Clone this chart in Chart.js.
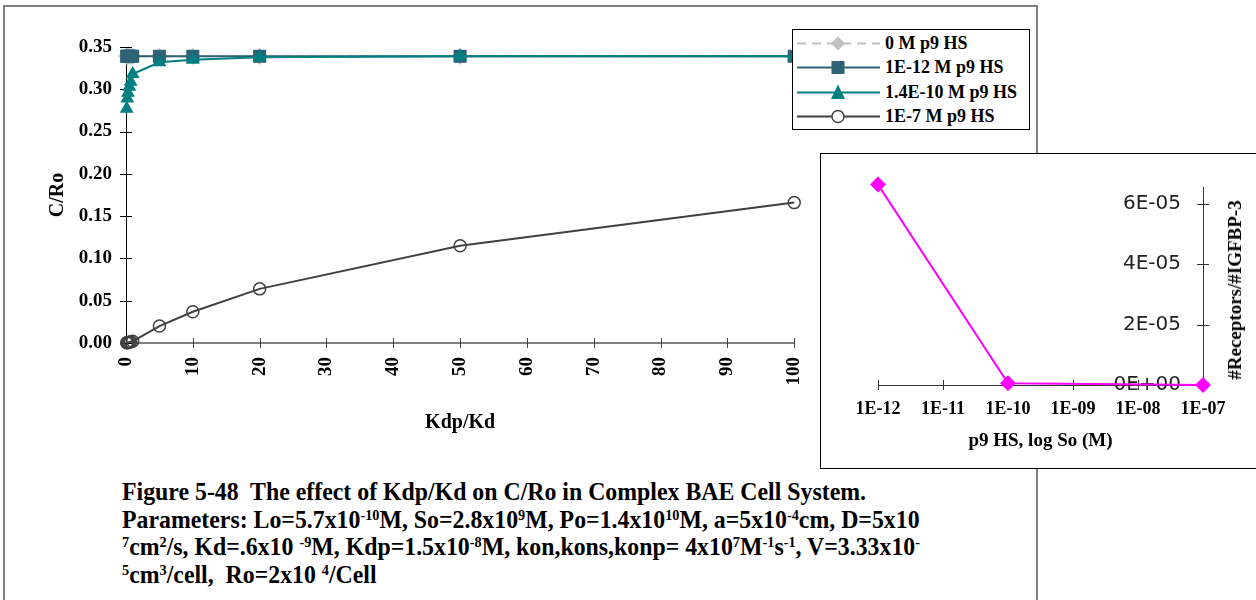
<!DOCTYPE html>
<html>
<head>
<meta charset="utf-8">
<script src="https://cdn.jsdelivr.net/npm/chart.js@4.4.1/dist/chart.umd.min.js"></script>
<style>
  html, body { margin: 0; padding: 0; background: #fff; }
  body { width: 1256px; height: 600px; overflow: hidden; position: relative; font-family: "Liberation Serif", serif; color: #000; }
  #frame { position: absolute; left: 3px; top: 5px; width: 1035px; height: 640px; border: 2px solid #808080; box-sizing: border-box; }
  #main { position: absolute; left: 0; top: 0; }
  #legend { position: absolute; left: 792px; top: 29px; width: 238px; height: 101px; border: 1px solid #000; background: #fff; box-sizing: border-box; font: bold 18px "Liberation Serif", serif; }
  #legend .row { position: absolute; left: 0; width: 236px; height: 25px; }
  #legend svg { position: absolute; left: 4px; top: 0; }
  #legend span { position: absolute; left: 92px; top: 0; line-height: 25px; white-space: nowrap; }
  #insetBox { position: absolute; left: 820px; top: 153px; width: 460px; height: 316px; border: 1px solid #000; background: #fff; box-sizing: border-box; }
  #inset { position: absolute; left: 821px; top: 154px; }
  #insetYTitle { position: absolute; left: 1235px; top: 290px; transform: translate(-50%, -50%) rotate(-90deg); font: bold 19px "Liberation Serif", serif; white-space: nowrap; }
  .cap { position: absolute; left: 122px; white-space: nowrap; font: bold 25px "Liberation Serif", serif; line-height: 27px; transform-origin: 0 50%; }
  .cap sup { font-size: 0.6em; vertical-align: 0.55em; line-height: 0; }
</style>
</head>
<body>
<div id="frame"></div>
<canvas id="main" width="831" height="445"></canvas>

<div id="legend"></div>

<div id="insetBox"></div>
<canvas id="inset" width="435" height="313"></canvas>
<div id="insetYTitle">#Receptors/#IGFBP-3</div>

<div class="cap" id="cap1" style="top:478px">Figure 5-48&nbsp; The effect of Kdp/Kd on C/Ro in Complex BAE Cell System.</div>
<div class="cap" style="top:506px">Parameters: Lo=5.7x10<sup>-10</sup>M, So=2.8x10<sup>9</sup>M, Po=1.4x10<sup>10</sup>M, a=5x10<sup>-4</sup>cm, D=5x10</div>
<div class="cap" style="top:533px"><sup>7</sup>cm<sup>2</sup>/s, Kd=.6x10 <sup>-9</sup>M, Kdp=1.5x10<sup>-8</sup>M, kon,kons,konp= 4x10<sup>7</sup>M<sup>-1</sup>s<sup>-1</sup>, V=3.33x10<sup>-</sup></div>
<div class="cap" style="top:561px"><sup>5</sup>cm<sup>3</sup>/cell,&nbsp; Ro=2x10 <sup>4</sup>/Cell</div>

<script>
// ---- main plot data: C/Ro versus Kdp/Kd ----
const kdpRatio   = [0.1, 0.2, 0.3, 0.5, 0.7, 1, 5, 10, 20, 50, 100];
const cRo_0M     = [0.339, 0.339, 0.339, 0.339, 0.339, 0.339, 0.339, 0.339, 0.339, 0.339, 0.339];
const cRo_1e12   = [0.339, 0.339, 0.339, 0.339, 0.339, 0.339, 0.339, 0.339, 0.339, 0.339, 0.339];
const cRo_14e10  = [0.277, 0.289, 0.296, 0.303, 0.309, 0.318, 0.332, 0.335, 0.338, 0.339, 0.339];
const cRo_1e7    = [0.0002, 0.0004, 0.0006, 0.001, 0.0014, 0.002, 0.020, 0.037, 0.064, 0.115, 0.166];
const seriesNames = ['0 M p9 HS', '1E-12 M p9 HS', '1.4E-10 M p9 HS', '1E-7 M p9 HS'];

// ---- inset data: receptor / IGFBP-3 ratio versus p9 HS concentration ----
const soConc        = [1e-12, 1e-10, 1e-7];
const receptorRatio = [6.63e-5, 6e-7, 0];
const soTickValues  = [1e-12, 1e-11, 1e-10, 1e-9, 1e-8, 1e-7];
const soTickLabels  = ['1E-12', '1E-11', '1E-10', '1E-09', '1E-08', '1E-07'];
const ratioTickLabels = ['0E+00', '2E-05', '4E-05', '6E-05'];

const C_GRAY = '#c0c0c0', C_SQ = '#2e6276', C_TRI = '#008080', C_CIRC = '#404040', C_MAG = '#ff00ff';

Chart.defaults.font.family = '"Liberation Serif", serif';
Chart.defaults.color = '#000';

// short tick marks that cross the axis line
const crossTicks = {
  id: 'crossTicks',
  beforeDatasetsDraw(chart, args, opts) {
    const ctx = chart.ctx;
    (opts.axes || []).forEach(a => {
      const s = chart.scales[a.id];
      ctx.save();
      ctx.strokeStyle = a.color;
      ctx.lineWidth = 1;
      ctx.beginPath();
      s.ticks.forEach(t => {
        const p = Math.round(s.getPixelForValue(t.value)) + 0.5;
        if (s.isHorizontal()) {
          const y = s.top;
          ctx.moveTo(p, y - a.len); ctx.lineTo(p, y + a.len);
        } else {
          const x = s.position === 'left' ? s.right : s.left;
          ctx.moveTo(x - a.len, p); ctx.lineTo(x + a.len, p);
        }
      });
      ctx.stroke();
      ctx.restore();
    });
  }
};

const pts = ys => kdpRatio.map((x, i) => ({ x, y: ys[i] }));

new Chart(document.getElementById('main'), {
  type: 'scatter',
  data: {
    datasets: [
      { label: seriesNames[0], data: pts(cRo_0M), showLine: true, borderColor: C_GRAY, borderWidth: 2, borderDash: [8, 5],
        pointStyle: 'rectRot', pointRadius: 7, pointBackgroundColor: C_GRAY, pointBorderColor: C_GRAY, order: 4 },
      { label: seriesNames[1], data: pts(cRo_1e12), showLine: true, borderColor: C_SQ, borderWidth: 2,
        pointStyle: 'rect', pointRadius: 9.2, pointBackgroundColor: C_SQ, pointBorderColor: C_SQ, pointBorderWidth: 0, order: 3 },
      { label: seriesNames[2], data: pts(cRo_14e10), showLine: true, borderColor: C_TRI, borderWidth: 2,
        pointStyle: 'triangle', pointRadius: 8, pointBackgroundColor: C_TRI, pointBorderColor: C_TRI, pointBorderWidth: 0, order: 2 },
      { label: seriesNames[3], data: pts(cRo_1e7), showLine: true, borderColor: C_CIRC, borderWidth: 2,
        pointStyle: 'circle', pointRadius: 6, pointBackgroundColor: 'rgba(255,255,255,0)', pointBorderColor: C_CIRC, pointBorderWidth: 1.5, order: 1 }
    ]
  },
  options: {
    responsive: false,
    animation: false,
    clip: false,
    layout: { padding: { left: 0, top: 47, right: 0, bottom: 0 } },
    plugins: {
      legend: { display: false },
      tooltip: { enabled: false },
      crossTicks: { axes: [ { id: 'x', len: 5, color: '#444' }, { id: 'y', len: 6, color: '#000' } ] }
    },
    scales: {
      x: {
        type: 'linear', min: 0, max: 100,
        ticks: { stepSize: 10, minRotation: 90, maxRotation: 90, padding: 14, font: { size: 19, weight: 'bold' } },
        grid: { display: false, drawTicks: false },
        border: { display: true, color: '#808080', width: 2 },
        title: { display: true, text: 'Kdp/Kd', font: { size: 20, weight: 'bold' }, padding: { top: 0, bottom: 10 } },
        afterFit: s => { s.height = 102; }
      },
      y: {
        type: 'linear', min: 0, max: 0.35,
        ticks: { stepSize: 0.05, padding: 14, font: { size: 19, weight: 'bold' }, callback: v => v.toFixed(2) },
        grid: { display: false, drawTicks: false },
        border: { display: true, color: '#000', width: 1 },
        title: { display: true, text: 'C/Ro', font: { size: 20, weight: 'bold' }, padding: { top: 46, bottom: 0 } },
        afterFit: s => { s.width = 126; }
      }
    }
  },
  plugins: [crossTicks]
});

new Chart(document.getElementById('inset'), {
  type: 'scatter',
  data: {
    datasets: [
      { label: '#Receptors/#IGFBP-3', data: soConc.map((x, i) => ({ x, y: receptorRatio[i] })), showLine: true,
        borderColor: C_MAG, borderWidth: 2, pointStyle: 'rectRot', pointRadius: 8,
        pointBackgroundColor: C_MAG, pointBorderColor: C_MAG, pointBorderWidth: 0 }
    ]
  },
  options: {
    responsive: false,
    animation: false,
    clip: false,
    layout: { padding: { left: 57, top: 33, right: 0, bottom: 0 } },
    plugins: {
      legend: { display: false },
      tooltip: { enabled: false },
      crossTicks: { axes: [ { id: 'x', len: 5, color: '#333' }, { id: 'y', len: 6, color: '#333' } ] }
    },
    scales: {
      x: {
        type: 'logarithmic', min: 1e-12, max: 1e-7,
        afterBuildTicks: s => { s.ticks = soTickValues.map(v => ({ value: v })); },
        ticks: { padding: 14, autoSkip: false, maxRotation: 0, font: { size: 18, weight: 'bold' }, callback: (v, i) => soTickLabels[i] },
        grid: { display: false, drawTicks: false },
        border: { display: true, color: '#333', width: 1 },
        title: { display: true, text: 'p9 HS, log So (M)', font: { size: 19, weight: 'bold' }, padding: { top: 0, bottom: 15 } },
        afterFit: s => { s.height = 82; }
      },
      y: {
        type: 'linear', position: 'right', min: 0, max: 6.55e-5,
        afterBuildTicks: s => { s.ticks = [0, 2e-5, 4e-5, 6e-5].map(v => ({ value: v })); },
        ticks: { mirror: true, padding: -22, color: '#222', font: { family: '"DejaVu Sans", sans-serif', size: 20 }, callback: (v, i) => ratioTickLabels[i] },
        grid: { display: false, drawTicks: false },
        border: { display: true, color: '#333', width: 1 },
        afterFit: s => { s.width = 53; }
      }
    }
  },
  plugins: [crossTicks]
});

// ---- legend for the main plot ----
const legendSymbols = [
  `<line x1="0" y1="12.5" x2="83" y2="12.5" stroke="${C_GRAY}" stroke-width="2" stroke-dasharray="9,6"/>
   <polygon points="41,5.5 48,12.5 41,19.5 34,12.5" fill="${C_GRAY}"/>`,
  `<line x1="0" y1="12.5" x2="83" y2="12.5" stroke="${C_SQ}" stroke-width="2"/>
   <rect x="34.5" y="6" width="13" height="13" fill="${C_SQ}"/>`,
  `<line x1="0" y1="12.5" x2="83" y2="12.5" stroke="${C_TRI}" stroke-width="2"/>
   <polygon points="41,4.5 48,19 34,19" fill="${C_TRI}"/>`,
  `<line x1="0" y1="12.5" x2="83" y2="12.5" stroke="${C_CIRC}" stroke-width="2"/>
   <circle cx="41" cy="12.5" r="6" fill="#fff" stroke="${C_CIRC}" stroke-width="1.5"/>`
];
const legendTops = [1, 25, 50, 74];
document.getElementById('legend').innerHTML = seriesNames.map((n, i) =>
  `<div class="row" style="top:${legendTops[i]}px"><svg width="84" height="25">${legendSymbols[i]}</svg><span>${n}</span></div>`
).join('');

// ---- caption: condensed bold serif ----
const caps = document.querySelectorAll('.cap');
const k = 744 / document.getElementById('cap1').offsetWidth;
caps.forEach(c => { c.style.transform = `scaleX(${k})`; });
</script>
</body>
</html>
